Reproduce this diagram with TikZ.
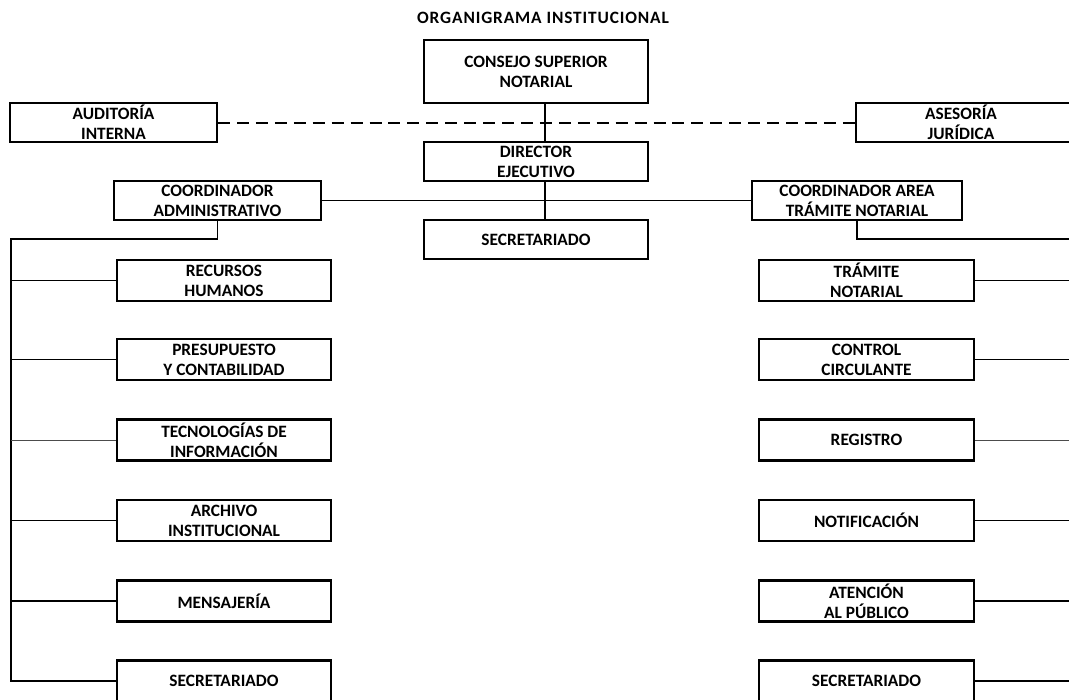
\documentclass[tikz,border=0pt]{standalone}
\usepackage{fontspec}
\setmainfont{Carlito}
\begin{document}
\begin{tikzpicture}[x=0.75pt,y=-0.75pt,
  box/.style={draw=black, line width=1.6pt, fill=white, rectangle, inner sep=0pt,
    align=center, font=\bfseries\fontsize{13}{15}\selectfont},
  wbox/.style={box, minimum width=207*0.75pt, minimum height=39*0.75pt},
  cbox/.style={box, minimum width=224*0.75pt, minimum height=39*0.75pt},
  lbox/.style={box, minimum width=214*0.75pt, minimum height=41*0.75pt},
  rbox/.style={box, minimum width=215*0.75pt, minimum height=41*0.75pt},
  link/.style={draw=black, line width=1.4pt},
  thinlink/.style={draw=black!70, line width=0.7pt},
  dashlink/.style={draw=black, line width=1.5pt, dash pattern=on 9pt off 5.2pt},
  lbl/.style={align=center, inner sep=0pt, font=\bfseries\fontsize{13}{15}\selectfont}
]
\useasboundingbox (0,0) rectangle (1069,699);
\clip (0,0) rectangle (1069,699);
\fill[white] (0,0) rectangle (1069,699);

\node[font=\bfseries\fontsize{13}{15}\selectfont\addfontfeature{LetterSpace=5}] (title) at (543,18) {ORGANIGRAMA INSTITUCIONAL};

\coordinate (spinetop) at (545,103);
\coordinate (spinemid) at (545,181);
\coordinate (spinebot) at (545,220);
\coordinate (leftbus-top) at (11,239);
\coordinate (rightbus-top) at (1075,239);
\coordinate (rightbus-bot) at (1075,681);

\node[cbox, minimum height=63*0.75pt] (consejo) at (536,71.5) {CONSEJO SUPERIOR\\NOTARIAL};
\node[wbox] (auditoria) at (113.5,122.5) {AUDITORÍA\\INTERNA};
\node[box, minimum width=230*0.75pt, minimum height=39*0.75pt] (asesoria) at (971,122.5) {};
\node[lbl] (asesoria-t) at (961,122.5) {ASESORÍA\\JURÍDICA};
\node[cbox] (director) at (536,161.5) {DIRECTOR\\EJECUTIVO};
\node[cbox] (secretariado) at (536,239.5) {SECRETARIADO};
\node[wbox] (coordadm) at (217.5,200.5) {COORDINADOR\\ADMINISTRATIVO};
\node[box, minimum width=210*0.75pt, minimum height=39*0.75pt] (coordarea) at (857,200.5) {COORDINADOR AREA\\TRÁMITE NOTARIAL};

% left column
\node[lbox] (l1) at (224,280.5) {RECURSOS\\HUMANOS};
\node[lbox] (l2) at (224,359.5) {PRESUPUESTO\\Y CONTABILIDAD};
\node[lbox] (l3) at (224,440) {TECNOLOGÍAS DE\\INFORMACIÓN};
\node[lbox] (l4) at (224,520.5) {ARCHIVO\\INSTITUCIONAL};
\node[lbox] (l5) at (224,601) {MENSAJERÍA};
\node[lbox] (l6) at (224,681) {SECRETARIADO};

% right column
\node[rbox] (r1) at (866.5,280.5) {TRÁMITE\\NOTARIAL};
\node[rbox] (r2) at (866.5,359.5) {CONTROL\\CIRCULANTE};
\node[rbox] (r3) at (866.5,440) {REGISTRO};
\node[rbox] (r4) at (866.5,520.5) {NOTIFICACIÓN};
\node[rbox] (r5) at (866.5,601) {ATENCIÓN\\AL PÚBLICO};
\node[rbox] (r6) at (866.5,681) {SECRETARIADO};

% spine
\draw[link] (consejo.south -| spinetop) -- (director.north -| spinetop);
\draw[link] (director.south -| spinemid) -- (secretariado.north -| spinebot);
\draw[dashlink] (auditoria.east) -- (asesoria.west);
\draw[link] (coordadm.east) -- (coordarea.west);

% left bus
\draw[link] (coordadm.south) |- (leftbus-top) -- (leftbus-top |- l6.west) -- (l6.west);
\draw[link] (leftbus-top |- l1.west) -- (l1.west);
\draw[link] (leftbus-top |- l2.west) -- (l2.west);
\draw[thinlink] (leftbus-top |- l3.west) -- (l3.west);
\draw[link] (leftbus-top |- l4.west) -- (l4.west);
\draw[link] (leftbus-top |- l5.west) -- (l5.west);

% right bus
\draw[link] (coordarea.south) |- (rightbus-top);
\draw[link] (r1.east) -- (rightbus-top |- r1.east);
\draw[link] (r2.east) -- (rightbus-top |- r2.east);
\draw[thinlink] (r3.east) -- (rightbus-top |- r3.east);
\draw[link] (r4.east) -- (rightbus-top |- r4.east);
\draw[link] (r5.east) -- (rightbus-top |- r5.east);
\draw[link] (r6.east) -- (rightbus-bot);
\end{tikzpicture}
\end{document}
